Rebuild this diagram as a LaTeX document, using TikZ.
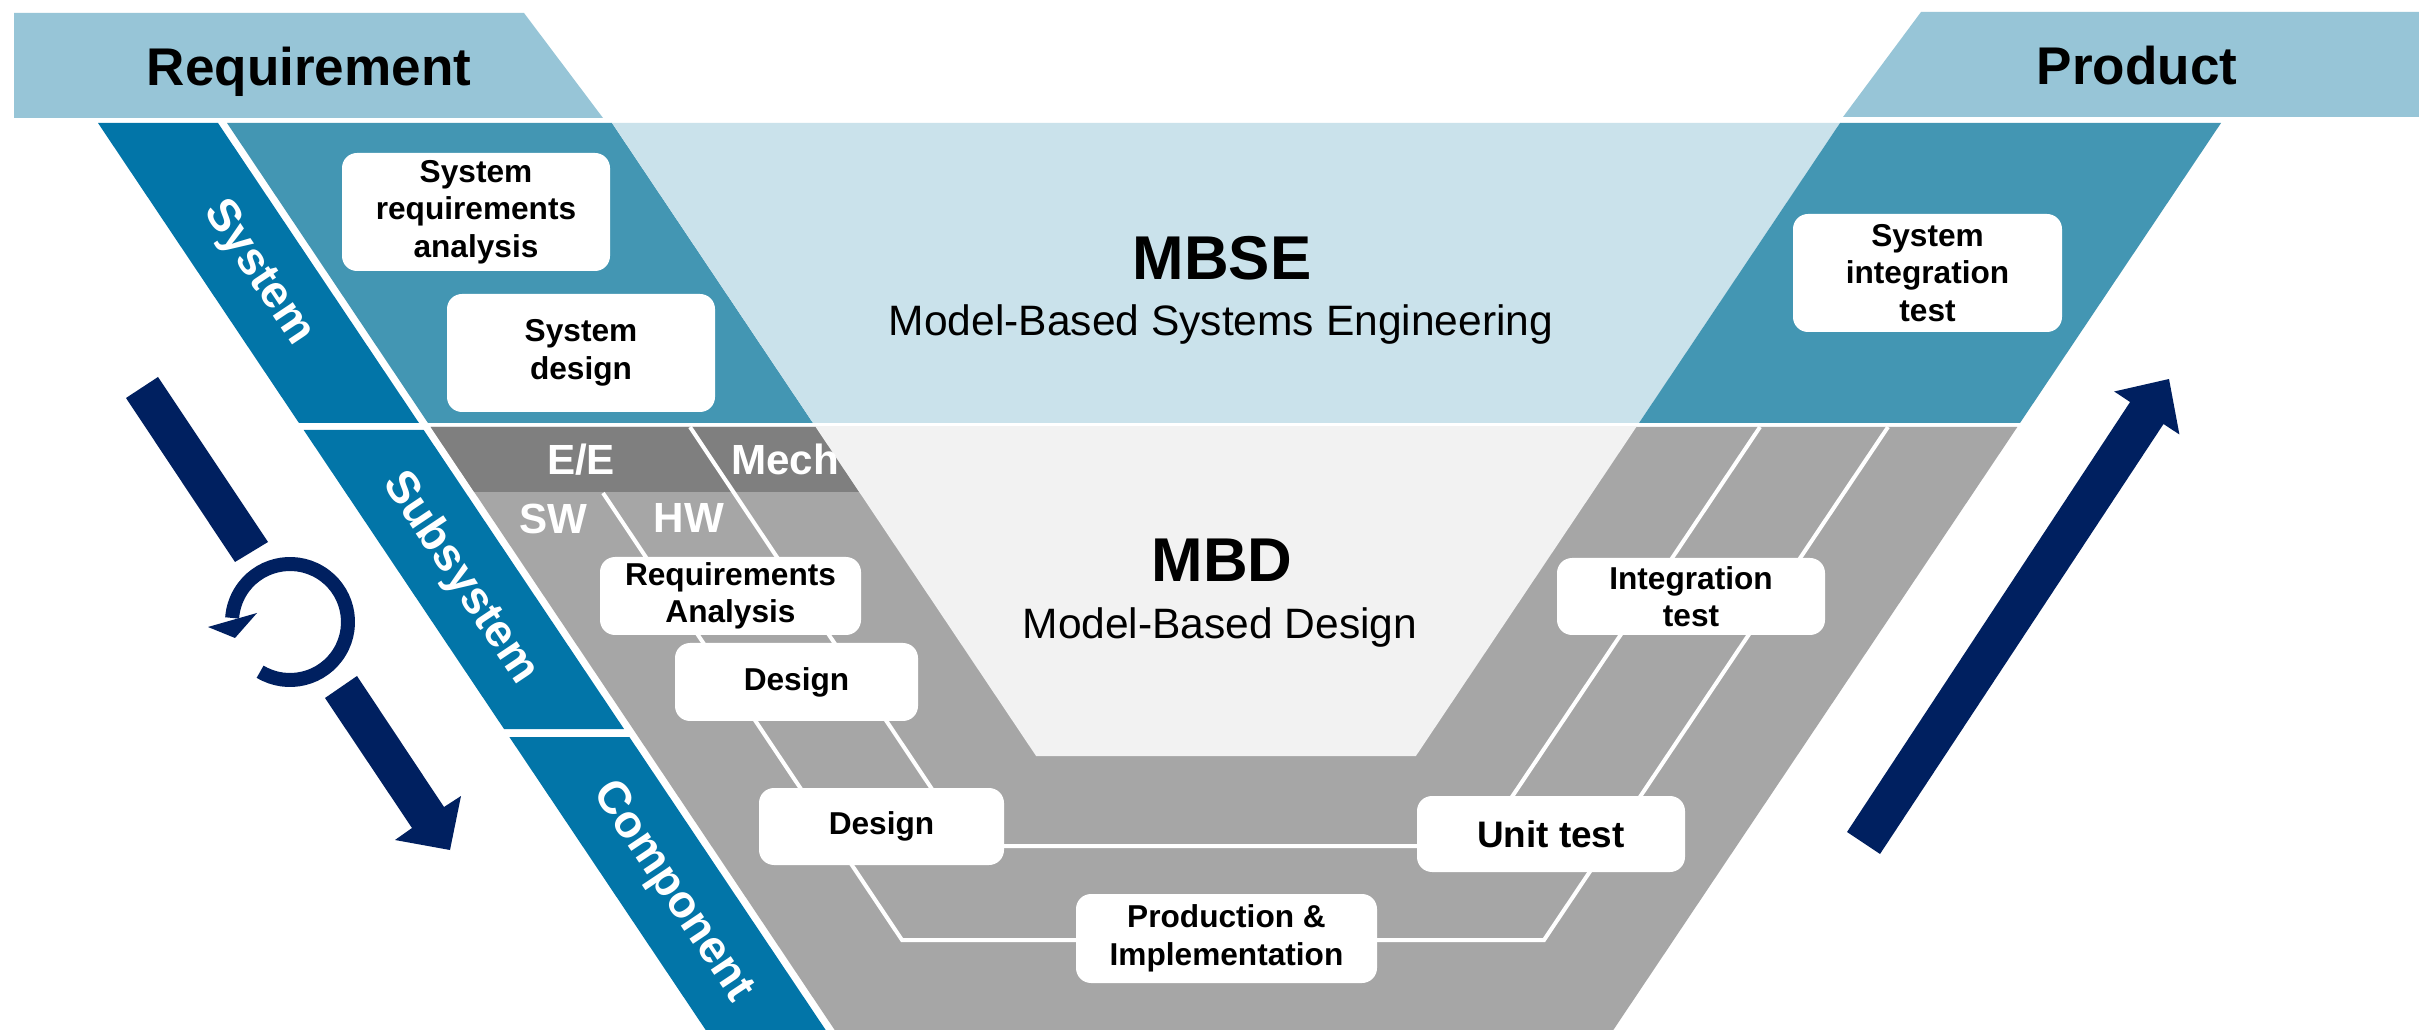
\documentclass[tikz,border=0pt]{standalone}
\usepackage{fontspec}
\setmainfont{Liberation Sans}
\usetikzlibrary{calc}
\definecolor{cBanner}{HTML}{97C5D7}
\definecolor{cStrip}{HTML}{0275A8}
\definecolor{cMid}{HTML}{4396B3}
\definecolor{cMbse}{HTML}{CAE2EB}
\definecolor{cDark}{HTML}{7F7F7F}
\definecolor{cGray}{HTML}{A6A6A6}
\definecolor{cMbd}{HTML}{F2F2F2}
\definecolor{cNavy}{HTML}{002060}
\begin{document}
\begin{tikzpicture}[x=0.1mm,y=-0.1mm,
  box/.style={fill=white, rounded corners=1.5mm, inner sep=0pt, align=center,
    font=\bfseries\fontsize{9}{10.7}\selectfont, text=black},
  bannertext/.style={font=\bfseries\fontsize{15.1}{18}\selectfont, text=black, anchor=base, inner sep=0pt},
  striptext/.style={font=\bfseries\fontsize{13}{15}\selectfont, text=white, rotate=-56.25, inner sep=0pt},
  lanetext/.style={font=\bfseries\fontsize{12}{14}\selectfont, text=white, anchor=base, inner sep=0pt},
  bigtitle/.style={font=\bfseries\fontsize{17.6}{20}\selectfont, text=black, anchor=base, inner sep=0pt},
  subtitle/.style={font=\fontsize{12.1}{14}\selectfont, text=black, anchor=base, inner sep=0pt},
  wline/.style={draw=white, line width=0.4mm}]
\def\k{0.67}
\useasboundingbox (0,0) rectangle (2419,1030);
\fill[white] (0,0) rectangle (2419,1030);

% banners
\fill[cBanner] (14,13) -- (524,13) -- (603,118) -- (14,118) -- cycle;
\fill[cBanner] (1921,12) -- (2419,12) -- (2419,117) -- (1843,117) -- cycle;
\node[bannertext] (req) at (309,86) {Requirement};
\node[bannertext] (prod) at (2137,85) {Product};

% system row
\fill[cStrip] (98,123) -- (218,123) -- ({218+\k*300},423) -- ({98+\k*300},423) -- cycle;
\fill[cMid] (227,123) -- (612,123) -- ({612+\k*300},423) -- ({227+\k*300},423) -- cycle;
\fill[cMbse] (612,123) -- (1840,123) -- ({1840-\k*300},423) -- ({612+\k*300},423) -- cycle;
\fill[cMid] (1840,123) -- (2221,123) -- ({2221-\k*300},423) -- ({1840-\k*300},423) -- cycle;

% level strips
\fill[cStrip] ({98+\k*307},430) -- ({218+\k*307},430) -- ({218+\k*606},729) -- ({98+\k*606},729) -- cycle;
\fill[cStrip] ({98+\k*614},737) -- ({218+\k*614},737) -- ({218+\k*907},1030) -- ({98+\k*907},1030) -- cycle;

% gray MBD area
\fill[cGray] ({227+\k*304},427) -- ({2221-\k*304},427) -- ({2221-\k*907},1030) -- ({227+\k*907},1030) -- cycle;
\fill[cDark] ({227+\k*304},427) -- ({612+\k*304},427) -- ({612+\k*369},492) -- ({227+\k*369},492) -- cycle;
\fill[cMbd] ({612+\k*304},427) -- ({1840-\k*304},427) -- ({1840-\k*633},756) -- ({612+\k*633},756) -- cycle;

% lanes
\coordinate (a1) at (603,493);
\coordinate (a2) at (902,940);
\coordinate (a3) at (1544,940);
\coordinate (a4) at (1888,427);
\coordinate (b1) at (690,427);
\coordinate (b2) at (970,846);
\coordinate (b3) at (1479,846);
\coordinate (b4) at (1760,427);
\draw[wline] (a1) -- (a2) -- (a3) -- (a4);
\draw[wline] (b1) -- (b2) -- (b3) -- (b4);

% strip labels
\node[striptext] (lsys) at (258,273) {System};
\node[striptext] (lsub) at (460,578) {Subsystem};
\node[striptext] (lcomp) at (672,892) {Component};

% lane labels
\node[lanetext] (ee) at (581,475) {E/E};
\node[lanetext] (mech) at (785,475) {Mech};
\node[lanetext] (sw) at (553,534) {SW};
\node[lanetext] (hw) at (689,533) {HW};

% titles
\node[bigtitle] (mbse) at (1222,280) {MBSE};
\node[subtitle] (mbsesub) at (1221,336) {Model-Based Systems Engineering};
\node[bigtitle] (mbd) at (1222,582) {MBD};
\node[subtitle] (mbdsub) at (1220,638) {Model-Based Design};

% boxes
\node[box, minimum width=26.8mm, minimum height=11.8mm] (sra) at (476,212) {System\\requirements\\analysis};
\node[box, minimum width=26.8mm, minimum height=11.8mm] (sd) at (581,353) {System\\design};
\node[box, minimum width=26.1mm, minimum height=7.8mm] (ra) at (730.5,596) {Requirements\\Analysis};
\node[box, minimum width=24.3mm, minimum height=7.8mm] (d1) at (796.5,682) {Design};
\node[box, minimum width=24.5mm, minimum height=7.7mm] (d2) at (881.5,826.5) {Design};
\node[box, minimum width=30.1mm, minimum height=8.9mm] (pi) at (1226.5,938.5) {Production \&\\Implementation};
\node[box, minimum width=26.8mm, minimum height=7.6mm, font=\bfseries\fontsize{10.5}{12.5}\selectfont] (ut) at (1551,834) {Unit test};
\node[box, minimum width=26.8mm, minimum height=7.7mm] (it) at (1691,596.5) {Integration\\test};
\node[box, minimum width=26.9mm, minimum height=11.8mm] (sit) at (1927.5,273) {System\\integration\\test};

% left arrows
\fill[cNavy] (126,398) -- (158,377) -- (268,542) -- (235,562) -- cycle;
\draw[cNavy, line width=1.4mm] ($(290,622)+(121:58)$) arc[start angle=121, end angle=-176, radius=58];
\fill[cNavy] (208,627) -- (257,613) -- (235,638) -- cycle;
\fill[cNavy] (325,698) -- (357,676) -- (444,807) -- (461,796) -- (450,850) -- (395,840) -- (412,828) -- cycle;

% right arrow
\fill[cNavy] (1847,832) -- (1880,854) -- (2163.5,424) -- (2179.4,434.5) -- (2169,379) -- (2114.2,391.5) -- (2130.1,402) -- cycle;
\end{tikzpicture}
\end{document}
